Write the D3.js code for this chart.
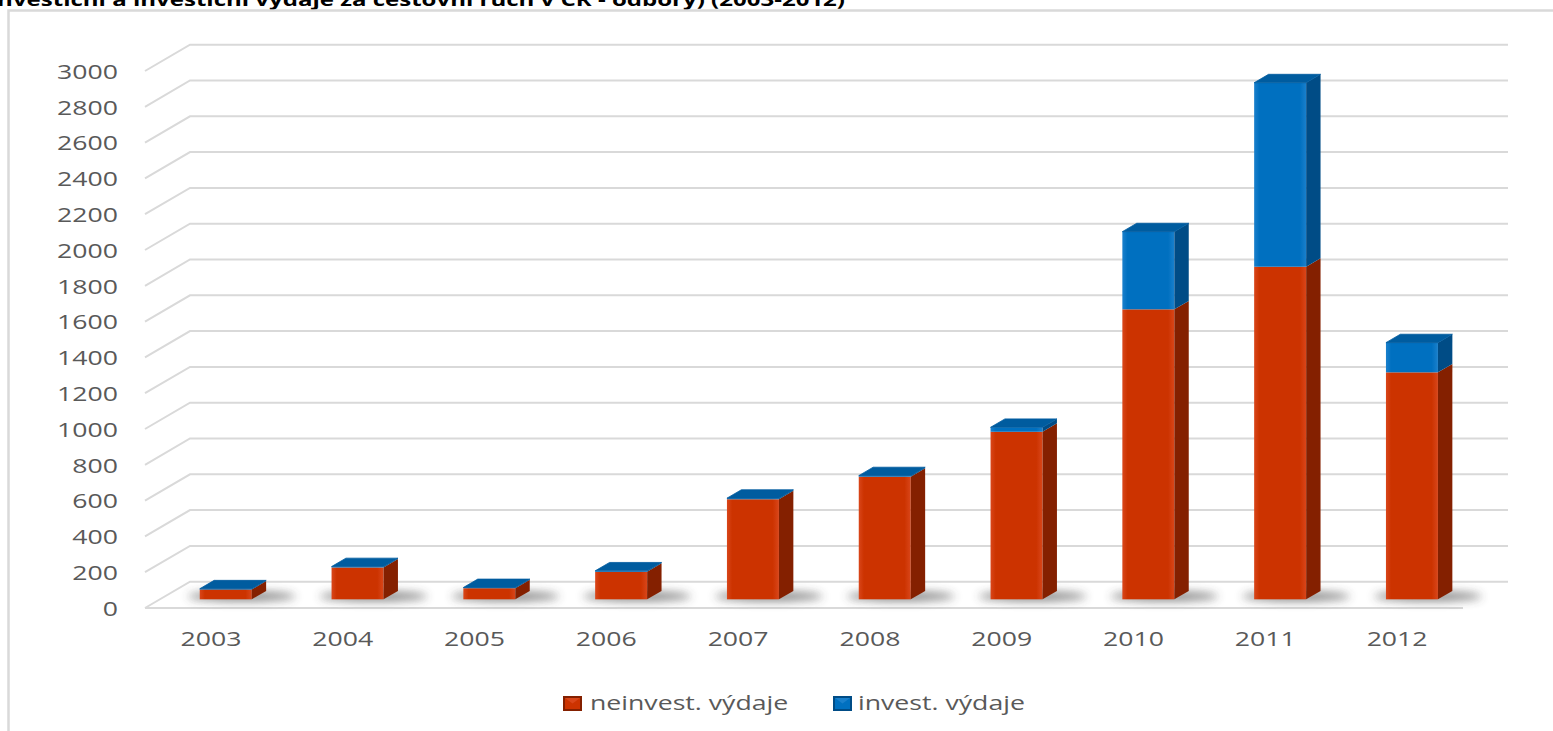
<!DOCTYPE html>
<html>
<head>
<meta charset="utf-8">
<script src="https://cdn.jsdelivr.net/npm/d3@7"></script>
<style>
  html, body { margin: 0; padding: 0; background: #fff; }
  svg { display: block; }
</style>
</head>
<body>
<svg id="chart" width="1553" height="731"></svg>
<script>
// ---- data (mil. Kč) ----
const years = ["2003", "2004", "2005", "2006", "2007", "2008", "2009", "2010", "2011", "2012"];
const neinvest = [55, 178, 62, 154, 559, 685, 936, 1620, 1858, 1268];
const invest = [4, 5, 4, 5, 6, 6, 25, 434, 1028, 166];
const seriesNames = ["neinvest. výdaje", "invest. výdaje"];
const yTicks = [0, 200, 400, 600, 800, 1000, 1200, 1400, 1600, 1800, 2000, 2200, 2400, 2600, 2800, 3000];
const titleText = "Neinvestiční a investiční výdaje za cestovní ruch v ČR - odbory) (2003-2012)";

// ---- look ----
const FONT = "'Open Sans', 'Noto Sans', sans-serif";
const STRETCH = 1.3;            // wide lettering
const GRID = "#d9d9d9";
const LABEL = "#595959";
const faces = [
  { front: "#cc3300", light: "#d9461a", side: "#842000", top: "#b02c00" },
  { front: "#0070c0", light: "#1a80cc", side: "#004c86", top: "#005c9f" }
];

// oblique projection: full floor depth and the slice a column occupies
const FLOOR_DX = 45, FLOOR_DY = -26.3;
const BAR_D0 = 0.33, BAR_D = 0.32;
const BAR_W = 52;

const svg = d3.select("#chart");
const defs = svg.append("defs");

const x = d3.scaleBand().domain(years).range([145, 1463]);
const y = d3.scaleLinear().domain([0, 3000]).range([608, 71]);

// shadow blur
defs.append("filter").attr("id", "soft").attr("x", "-50%").attr("y", "-200%")
  .attr("width", "200%").attr("height", "500%")
  .append("feGaussianBlur").attr("stdDeviation", 5);

// front-face shading per series
faces.forEach((f, i) => {
  const g = defs.append("linearGradient").attr("id", "front" + i)
    .attr("x1", "0%").attr("x2", "100%").attr("y1", "0%").attr("y2", "0%");
  g.append("stop").attr("offset", "0%").attr("stop-color", f.light);
  g.append("stop").attr("offset", "10%").attr("stop-color", f.front);
  g.append("stop").attr("offset", "88%").attr("stop-color", f.front);
  g.append("stop").attr("offset", "100%").attr("stop-color", f.light);
});

// ---- title (runs past the top-left page edge) ----
svg.append("text")
  .attr("transform", `translate(845,6) scale(${STRETCH},1)`)
  .attr("text-anchor", "end")
  .attr("font-family", FONT).attr("font-weight", "bold").attr("font-size", 18.5)
  .attr("fill", "#000")
  .text(titleText);

// ---- chart area frame ----
svg.append("rect")
  .attr("x", 8.5).attr("y", 10.5).attr("width", 1700).attr("height", 900)
  .attr("fill", "none").attr("stroke", GRID).attr("stroke-width", 2.5);

// ---- gridlines: side wall diagonal + back wall horizontal ----
const gridG = svg.append("g").attr("fill", "none").attr("stroke", GRID).attr("stroke-width", 2);
const [x0, x1] = x.range();
gridG.selectAll("path.grid").data(yTicks).join("path")
  .attr("class", "grid")
  .attr("d", v => {
    const yy = y(v);
    return `M${x0},${yy} L${x0 + FLOOR_DX},${yy + FLOOR_DY} L${x1 + FLOOR_DX},${yy + FLOOR_DY}`;
  });
// front edge of the floor
gridG.append("path").attr("d", `M${x0},${y(0)} L${x1},${y(0)}`);

// ---- y axis labels ----
const yAxis = svg.append("g")
  .attr("transform", "translate(118,0)")
  .call(d3.axisLeft(y).tickValues(yTicks).tickSize(0).tickFormat(d3.format("d")));
yAxis.select(".domain").remove();
yAxis.selectAll("text")
  .attr("x", 0).attr("dy", "0.36em")
  .attr("transform", `scale(${STRETCH},1)`)
  .attr("font-family", FONT).attr("font-size", 20.5).attr("fill", LABEL);

// ---- x axis labels ----
const xAxis = svg.append("g")
  .attr("transform", "translate(0,646)")
  .call(d3.axisBottom(x).tickSize(0));
xAxis.select(".domain").remove();
xAxis.selectAll("text")
  .attr("y", 0).attr("dy", 0)
  .attr("transform", `scale(${STRETCH},1)`)
  .attr("font-family", FONT).attr("font-size", 20.5).attr("fill", LABEL);

// ---- columns ----
const bars = years.map((yr, i) => {
  const segs = [];
  let base = 0;
  [neinvest[i], invest[i]].forEach((val, s) => {
    segs.push({ s, v0: base, v1: base + val });
    base += val;
  });
  return { yr, segs, total: base };
});

const ox = BAR_D0 * FLOOR_DX, oy = BAR_D0 * FLOOR_DY;   // front plane of the columns
const dx = BAR_D * FLOOR_DX, dy = BAR_D * FLOOR_DY;     // column depth

const barG = svg.append("g");
const barLeft = d => x(d.yr) + x.bandwidth() / 2 + ox - BAR_W / 2;

// floor shadows
barG.selectAll("ellipse.shadow").data(bars).join("ellipse")
  .attr("class", "shadow")
  .attr("cx", d => barLeft(d) + BAR_W / 2 + 16)
  .attr("cy", y(0) + oy - 3)
  .attr("rx", 54).attr("ry", 5)
  .attr("fill", "#3a3a3a").attr("opacity", 0.6)
  .attr("filter", "url(#soft)");

const col = barG.selectAll("g.col").data(bars).join("g").attr("class", "col");

col.each(function (d) {
  const g = d3.select(this);
  const xl = barLeft(d), xr = xl + BAR_W;
  d.segs.forEach(seg => {
    const yb = y(seg.v0) + oy, yt = y(seg.v1) + oy;
    const f = faces[seg.s];
    g.append("rect")
      .attr("x", xl).attr("y", yt).attr("width", BAR_W).attr("height", Math.max(0, yb - yt))
      .attr("fill", `url(#front${seg.s})`);
    g.append("path")
      .attr("d", `M${xr},${yb} L${xr + dx},${yb + dy} L${xr + dx},${yt + dy} L${xr},${yt} Z`)
      .attr("fill", f.side);
  });
  // lid in the colour of the upper series
  const top = d.segs[d.segs.length - 1];
  const yt = y(top.v1) + oy;
  g.append("path")
    .attr("d", `M${xl},${yt} L${xr},${yt} L${xr + dx},${yt + dy} L${xl + dx},${yt + dy} Z`)
    .attr("fill", faces[top.s].top)
    .attr("stroke", faces[top.s].top).attr("stroke-width", 0.8).attr("stroke-linejoin", "round");
});

// ---- legend ----
const legendPos = [{ sx: 563, tx: 590 }, { sx: 833, tx: 858 }];
const leg = svg.append("g");
seriesNames.forEach((name, i) => {
  const f = faces[i];
  const p = legendPos[i];
  const sw = 19, sh = 15, sy = 696;
  leg.append("rect").attr("x", p.sx).attr("y", sy).attr("width", sw).attr("height", sh).attr("fill", f.side);
  leg.append("rect").attr("x", p.sx + 2).attr("y", sy + 2).attr("width", sw - 4).attr("height", sh - 4).attr("fill", f.front);
  leg.append("path")
    .attr("d", `M${p.sx + 2},${sy + 2} L${p.sx + sw / 2},${sy + sh / 2} L${p.sx + sw - 2},${sy + 2} Z`)
    .attr("fill", f.light);
  leg.append("text")
    .attr("transform", `translate(${p.tx},709.5) scale(${STRETCH},1)`)
    .attr("font-family", FONT).attr("font-size", 20.5).attr("fill", LABEL)
    .text(name);
});
</script>
</body>
</html>
